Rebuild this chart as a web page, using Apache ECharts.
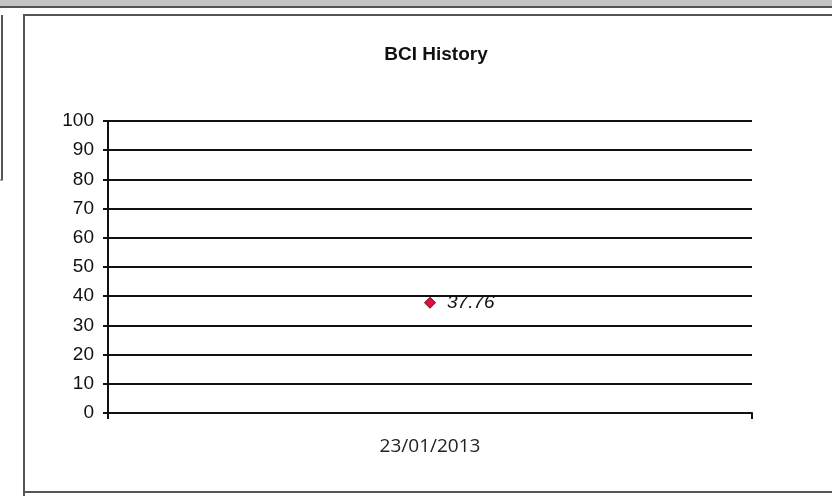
<!DOCTYPE html>
<html>
<head>
<meta charset="utf-8">
<script src="https://cdn.jsdelivr.net/npm/echarts@6/dist/echarts.min.js"></script>
<style>
  html, body { margin: 0; padding: 0; background: #fff; }
  #main { width: 832px; height: 496px; }
</style>
</head>
<body>
<div id="main"></div>
<script>
// data
const dates = ['23/01/2013'];
const bciValues = [37.76];
const yTicks = [0, 10, 20, 30, 40, 50, 60, 70, 80, 90, 100];

const chart = echarts.init(document.getElementById('main'), null, { renderer: 'canvas' });

const option = {
  backgroundColor: '#fff',
  animation: false,
  title: {
    text: 'BCI History',
    left: 431,
    top: 40,
    textAlign: 'center',
    textStyle: { fontFamily: 'Liberation Sans, Arial', fontSize: 19, fontWeight: 'bold', color: '#111' }
  },
  grid: { left: 108, right: 80, top: 121, bottom: 83 },
  xAxis: {
    type: 'category',
    data: dates,
    boundaryGap: true,
    axisLine: { lineStyle: { color: '#111', width: 2 } },
    axisTick: { show: true, length: 6, lineStyle: { color: '#111', width: 2 } },
    axisLabel: { margin: 24, fontFamily: 'Open Sans', fontSize: 19, color: '#222' },
    splitLine: { show: false }
  },
  yAxis: {
    type: 'value',
    min: yTicks[0],
    max: yTicks[yTicks.length - 1],
    interval: 10,
    axisLine: { show: true, lineStyle: { color: '#111', width: 2 } },
    axisTick: { show: true, length: 5, lineStyle: { color: '#111', width: 2 } },
    axisLabel: { margin: 14, fontFamily: 'Liberation Sans, Arial', fontSize: 19, color: '#111' },
    splitLine: { show: true, lineStyle: { color: '#111', width: 2 } }
  },
  series: [{
    type: 'line',
    data: bciValues,
    symbol: 'diamond',
    symbolSize: 11,
    itemStyle: { color: '#e0103c', borderColor: '#5a1020', borderWidth: 1 },
    label: {
      show: true,
      position: 'right',
      distance: 11,
      fontFamily: 'Liberation Sans, Arial',
      fontSize: 19,
      fontStyle: 'italic',
      color: '#111'
    }
  }],
  graphic: [
    { type: 'rect', shape: { x: 0, y: 0, width: 832, height: 6 }, style: { fill: '#c4c4c4' }, silent: true },
    { type: 'line', shape: { x1: 0, y1: 7, x2: 832, y2: 7 }, style: { stroke: '#555', lineWidth: 2 }, silent: true },
    { type: 'polyline', shape: { points: [[24, 496], [24, 15], [832, 15]] }, style: { stroke: '#555', lineWidth: 2, fill: null }, silent: true },
    { type: 'line', shape: { x1: 24, y1: 492, x2: 832, y2: 492 }, style: { stroke: '#555', lineWidth: 2 }, silent: true },
    { type: 'line', shape: { x1: 2, y1: 15, x2: 2, y2: 180 }, style: { stroke: '#555', lineWidth: 2 }, silent: true },
    { type: 'line', shape: { x1: 0, y1: 180, x2: 3, y2: 180 }, style: { stroke: '#555', lineWidth: 1 }, silent: true }
  ]
};

chart.setOption(option);
</script>
</body>
</html>
